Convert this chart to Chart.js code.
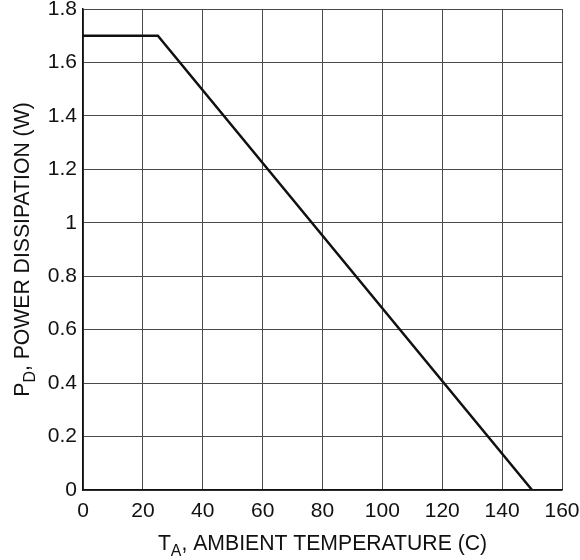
<!DOCTYPE html>
<html>
<head>
<meta charset="utf-8">
<script src="https://cdn.jsdelivr.net/npm/chart.js@4.4.1/dist/chart.umd.min.js"></script>
<style>
  html, body { margin: 0; padding: 0; background: #fff; }
  #wrap { width: 580px; height: 560px; }
</style>
</head>
<body>
<div id="wrap"><canvas id="derating"></canvas></div>
<script>
const ambientTemp = [0, 25, 150];
const powerDiss = [1.7, 1.7, 0];
const xTicks = [0, 20, 40, 60, 80, 100, 120, 140, 160];
const yTicks = [0, 0.2, 0.4, 0.6, 0.8, 1, 1.2, 1.4, 1.6, 1.8];

const FONT = "'Liberation Sans', Arial, sans-serif";

// dibuja texto con un subíndice (P_D, T_A)
function drawSubText(ctx, parts, x, y, size) {
    let total = 0;
    parts.forEach(p => {
        ctx.font = (p.sub ? size * 0.75 : size) + 'px ' + FONT;
        total += ctx.measureText(p.t).width;
    });
    let cx = x - total / 2;
    parts.forEach(p => {
        ctx.font = (p.sub ? size * 0.75 : size) + 'px ' + FONT;
        ctx.fillText(p.t, cx, p.sub ? y + size * 0.3 : y);
        cx += ctx.measureText(p.t).width;
    });
}

const axisTitles = {
    id: 'axisTitles',
    afterDraw(chart) {
        const ctx = chart.ctx;
        const a = chart.chartArea;
        ctx.save();
        ctx.fillStyle = '#111';
        ctx.textBaseline = 'alphabetic';
        ctx.textAlign = 'left';
        drawSubText(ctx, [{t: 'T'}, {t: 'A', sub: true}, {t: ', AMBIENT TEMPERATURE (C)'}],
            (a.left + a.right) / 2, 550, 21.2);
        ctx.translate(29, (a.top + a.bottom) / 2);
        ctx.rotate(-Math.PI / 2);
        drawSubText(ctx, [{t: 'P'}, {t: 'D', sub: true}, {t: ', POWER DISSIPATION (W)'}],
            0, 0, 21.2);
        ctx.restore();
    }
};

new Chart(document.getElementById('derating'), {
    type: 'scatter',
    data: {
        datasets: [{
            data: ambientTemp.map((t, i) => ({x: t, y: powerDiss[i]})),
            showLine: true,
            borderColor: '#111',
            borderWidth: 2.5,
            pointRadius: 0,
            tension: 0
        }]
    },
    options: {
        responsive: true,
        maintainAspectRatio: false,
        animation: false,
        layout: { padding: { left: 0, top: 9, right: 18, bottom: 0 } },
        plugins: { legend: { display: false }, tooltip: { enabled: false } },
        scales: {
            x: {
                type: 'linear',
                min: xTicks[0],
                max: xTicks[xTicks.length - 1],
                afterBuildTicks: s => { s.ticks = xTicks.map(v => ({value: v})); },
                afterFit: s => { s.height = 70; s.paddingRight = 0; s.paddingLeft = 0; },
                ticks: { color: '#111', font: { family: FONT, size: 21 }, padding: 9, maxRotation: 0 },
                grid: { color: '#4a4a4a', lineWidth: 1, drawTicks: false },
                border: { color: '#111', width: 1.5 }
            },
            y: {
                type: 'linear',
                min: yTicks[0],
                max: yTicks[yTicks.length - 1],
                afterBuildTicks: s => { s.ticks = yTicks.map(v => ({value: v})); },
                afterFit: s => { s.width = 83; s.paddingTop = 0; s.paddingBottom = 0; },
                ticks: {
                    color: '#111', font: { family: FONT, size: 21 }, padding: 6,
                    callback: v => String(parseFloat(v.toFixed(1)))
                },
                grid: { color: '#4a4a4a', lineWidth: 1, drawTicks: false },
                border: { color: '#111', width: 1.5 }
            }
        }
    },
    plugins: [axisTitles]
});
</script>
</body>
</html>
